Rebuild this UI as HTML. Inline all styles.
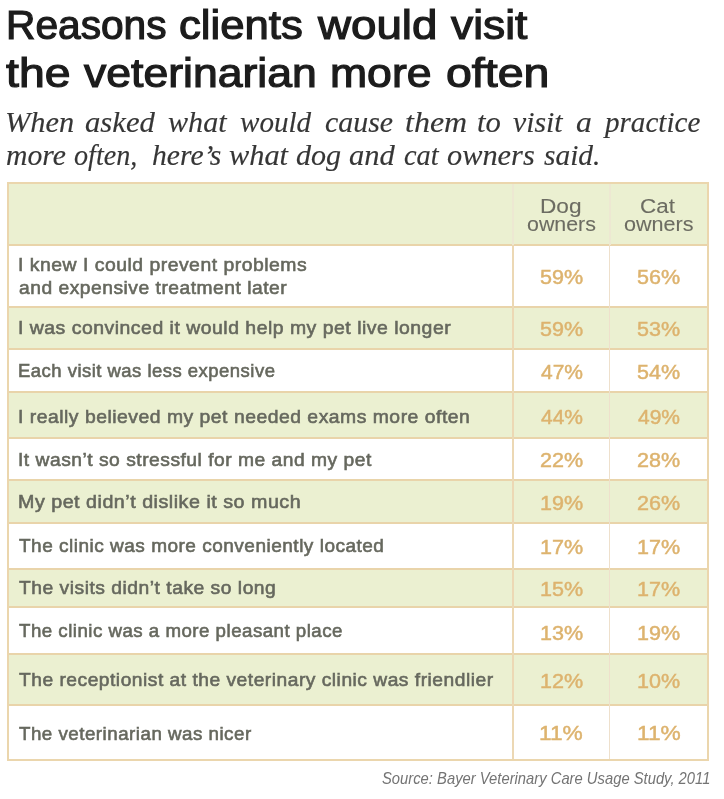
<!DOCTYPE html>
<html><head><meta charset="utf-8"><style>
html,body{margin:0;padding:0;background:#ffffff;width:724px;height:799px;overflow:hidden;position:relative}
.t{position:absolute;white-space:nowrap;transform-origin:0 0}
.r{position:absolute;box-sizing:border-box}
#wrap{position:absolute;left:0;top:0;width:724px;height:799px;filter:blur(0.45px)}
</style></head><body><div id="wrap">
<div class="r" style="left:7px;top:183px;width:701px;height:62.2px;background:#ebf0d1"></div>
<div class="r" style="left:7px;top:245.2px;width:701px;height:61.6px;background:#ffffff"></div>
<div class="r" style="left:7px;top:306.8px;width:701px;height:42.2px;background:#ebf0d1"></div>
<div class="r" style="left:7px;top:349px;width:701px;height:43.4px;background:#ffffff"></div>
<div class="r" style="left:7px;top:392.4px;width:701px;height:45.7px;background:#ebf0d1"></div>
<div class="r" style="left:7px;top:438.1px;width:701px;height:42.1px;background:#ffffff"></div>
<div class="r" style="left:7px;top:480.2px;width:701px;height:42.5px;background:#ebf0d1"></div>
<div class="r" style="left:7px;top:522.7px;width:701px;height:46.6px;background:#ffffff"></div>
<div class="r" style="left:7px;top:569.3px;width:701px;height:37.6px;background:#ebf0d1"></div>
<div class="r" style="left:7px;top:606.9px;width:701px;height:47.4px;background:#ffffff"></div>
<div class="r" style="left:7px;top:654.3px;width:701px;height:50.8px;background:#ebf0d1"></div>
<div class="r" style="left:7px;top:705.1px;width:701px;height:54.9px;background:#ffffff"></div>
<div class="r" style="left:7px;top:244.10px;width:701px;height:2.2px;background:#e9d4aa"></div>
<div class="r" style="left:7px;top:305.70px;width:701px;height:2.2px;background:#e9d4aa"></div>
<div class="r" style="left:7px;top:347.90px;width:701px;height:2.2px;background:#e9d4aa"></div>
<div class="r" style="left:7px;top:391.30px;width:701px;height:2.2px;background:#e9d4aa"></div>
<div class="r" style="left:7px;top:437.00px;width:701px;height:2.2px;background:#e9d4aa"></div>
<div class="r" style="left:7px;top:479.10px;width:701px;height:2.2px;background:#e9d4aa"></div>
<div class="r" style="left:7px;top:521.60px;width:701px;height:2.2px;background:#e9d4aa"></div>
<div class="r" style="left:7px;top:568.20px;width:701px;height:2.2px;background:#e9d4aa"></div>
<div class="r" style="left:7px;top:605.80px;width:701px;height:2.2px;background:#e9d4aa"></div>
<div class="r" style="left:7px;top:653.20px;width:701px;height:2.2px;background:#e9d4aa"></div>
<div class="r" style="left:7px;top:704.00px;width:701px;height:2.2px;background:#e9d4aa"></div>
<div class="r" style="left:511.90px;top:245.2px;width:1.8px;height:514.8px;background:#ecd8b4"></div>
<div class="r" style="left:511.80px;top:183px;width:2px;height:62.2px;background:#ede8d2"></div>
<div class="r" style="left:609.10px;top:245.2px;width:1.4px;height:514.8px;background:#eee0cc"></div>
<div class="r" style="left:608.80px;top:183px;width:2px;height:62.2px;background:#ede8d2"></div>
<div class="r" style="left:6.8px;top:182.2px;width:702.2px;height:579.1px;border:2px solid #ebd6ad"></div>
<div class="t" style="left:5.53px;top:-15.28px;font-family:'Liberation Sans',sans-serif;font-weight:400;font-style:normal;font-size:44px;line-height:88px;letter-spacing:0px;color:#1c1c1c;-webkit-text-stroke:1.3px #1c1c1c;transform:scale(0.9247,0.92)">Reasons</div>
<div class="t" style="left:179.41px;top:-15.28px;font-family:'Liberation Sans',sans-serif;font-weight:400;font-style:normal;font-size:44px;line-height:88px;letter-spacing:0px;color:#1c1c1c;-webkit-text-stroke:1.3px #1c1c1c;transform:scale(0.9927,0.92)">clients</div>
<div class="t" style="left:318.04px;top:-15.28px;font-family:'Liberation Sans',sans-serif;font-weight:400;font-style:normal;font-size:44px;line-height:88px;letter-spacing:0px;color:#1c1c1c;-webkit-text-stroke:1.3px #1c1c1c;transform:scale(1.0386,0.92)">would</div>
<div class="t" style="left:451.41px;top:-15.28px;font-family:'Liberation Sans',sans-serif;font-weight:400;font-style:normal;font-size:44px;line-height:88px;letter-spacing:0px;color:#1c1c1c;-webkit-text-stroke:1.3px #1c1c1c;transform:scale(1.0078,0.92)">visit</div>
<div class="t" style="left:5.50px;top:32.52px;font-family:'Liberation Sans',sans-serif;font-weight:400;font-style:normal;font-size:44px;line-height:88px;letter-spacing:0px;color:#1c1c1c;-webkit-text-stroke:1.3px #1c1c1c;transform:scale(1.0533,0.92)">the</div>
<div class="t" style="left:84.01px;top:32.52px;font-family:'Liberation Sans',sans-serif;font-weight:400;font-style:normal;font-size:44px;line-height:88px;letter-spacing:0px;color:#1c1c1c;-webkit-text-stroke:1.3px #1c1c1c;transform:scale(1.0127,0.92)">veterinarian</div>
<div class="t" style="left:329.68px;top:32.52px;font-family:'Liberation Sans',sans-serif;font-weight:400;font-style:normal;font-size:44px;line-height:88px;letter-spacing:0px;color:#1c1c1c;-webkit-text-stroke:1.3px #1c1c1c;transform:scale(1.0124,0.92)">more</div>
<div class="t" style="left:445.54px;top:32.52px;font-family:'Liberation Sans',sans-serif;font-weight:400;font-style:normal;font-size:44px;line-height:88px;letter-spacing:0px;color:#1c1c1c;-webkit-text-stroke:1.3px #1c1c1c;transform:scale(1.0568,0.92)">often</div>
<div class="t" style="left:5.48px;top:91.50px;font-family:'Liberation Serif',serif;font-weight:400;font-style:italic;font-size:30px;line-height:60px;letter-spacing:0px;color:#363636;-webkit-text-stroke:0.15px #363636;transform:scale(1.0123,1.0)">When</div>
<div class="t" style="left:84.78px;top:91.50px;font-family:'Liberation Serif',serif;font-weight:400;font-style:italic;font-size:30px;line-height:60px;letter-spacing:0px;color:#363636;-webkit-text-stroke:0.15px #363636;transform:scale(1.0235,1.0)">asked</div>
<div class="t" style="left:168.00px;top:91.50px;font-family:'Liberation Serif',serif;font-weight:400;font-style:italic;font-size:30px;line-height:60px;letter-spacing:0px;color:#363636;-webkit-text-stroke:0.15px #363636;transform:scale(1.0034,1.0)">what</div>
<div class="t" style="left:240.03px;top:91.50px;font-family:'Liberation Serif',serif;font-weight:400;font-style:italic;font-size:30px;line-height:60px;letter-spacing:0px;color:#363636;-webkit-text-stroke:0.15px #363636;transform:scale(0.9699,1.0)">would</div>
<div class="t" style="left:324.50px;top:91.50px;font-family:'Liberation Serif',serif;font-weight:400;font-style:italic;font-size:30px;line-height:60px;letter-spacing:0px;color:#363636;-webkit-text-stroke:0.15px #363636;transform:scale(0.9970,1.0)">cause</div>
<div class="t" style="left:404.93px;top:91.50px;font-family:'Liberation Serif',serif;font-weight:400;font-style:italic;font-size:30px;line-height:60px;letter-spacing:0px;color:#363636;-webkit-text-stroke:0.15px #363636;transform:scale(1.0661,1.0)">them</div>
<div class="t" style="left:476.98px;top:91.50px;font-family:'Liberation Serif',serif;font-weight:400;font-style:italic;font-size:30px;line-height:60px;letter-spacing:0px;color:#363636;-webkit-text-stroke:0.15px #363636;transform:scale(1.0227,1.0)">to</div>
<div class="t" style="left:513.00px;top:91.50px;font-family:'Liberation Serif',serif;font-weight:400;font-style:italic;font-size:30px;line-height:60px;letter-spacing:0px;color:#363636;-webkit-text-stroke:0.15px #363636;transform:scale(0.9922,1.0)">visit</div>
<div class="t" style="left:576.25px;top:91.50px;font-family:'Liberation Serif',serif;font-weight:400;font-style:italic;font-size:30px;line-height:60px;letter-spacing:0px;color:#363636;-webkit-text-stroke:0.15px #363636;transform:scale(1.0538,1.0)">a</div>
<div class="t" style="left:605.34px;top:91.50px;font-family:'Liberation Serif',serif;font-weight:400;font-style:italic;font-size:30px;line-height:60px;letter-spacing:0px;color:#363636;-webkit-text-stroke:0.15px #363636;transform:scale(0.9700,1.0)">practice</div>
<div class="t" style="left:5.61px;top:124.50px;font-family:'Liberation Serif',serif;font-weight:400;font-style:italic;font-size:30px;line-height:60px;letter-spacing:0px;color:#363636;-webkit-text-stroke:0.15px #363636;transform:scale(0.9898,1.0)">more</div>
<div class="t" style="left:74.06px;top:124.50px;font-family:'Liberation Serif',serif;font-weight:400;font-style:italic;font-size:30px;line-height:60px;letter-spacing:0px;color:#363636;-webkit-text-stroke:0.15px #363636;transform:scale(0.9385,1.0)">often,</div>
<div class="t" style="left:151.51px;top:124.50px;font-family:'Liberation Serif',serif;font-weight:400;font-style:italic;font-size:30px;line-height:60px;letter-spacing:0px;color:#363636;-webkit-text-stroke:0.15px #363636;transform:scale(0.9882,1.0)">here’s</div>
<div class="t" style="left:228.59px;top:124.50px;font-family:'Liberation Serif',serif;font-weight:400;font-style:italic;font-size:30px;line-height:60px;letter-spacing:0px;color:#363636;-webkit-text-stroke:0.15px #363636;transform:scale(1.0121,1.0)">what</div>
<div class="t" style="left:296.40px;top:124.50px;font-family:'Liberation Serif',serif;font-weight:400;font-style:italic;font-size:30px;line-height:60px;letter-spacing:0px;color:#363636;-webkit-text-stroke:0.15px #363636;transform:scale(1.0023,1.0)">dog</div>
<div class="t" style="left:348.58px;top:124.50px;font-family:'Liberation Serif',serif;font-weight:400;font-style:italic;font-size:30px;line-height:60px;letter-spacing:0px;color:#363636;-webkit-text-stroke:0.15px #363636;transform:scale(1.0182,1.0)">and</div>
<div class="t" style="left:404.06px;top:124.50px;font-family:'Liberation Serif',serif;font-weight:400;font-style:italic;font-size:30px;line-height:60px;letter-spacing:0px;color:#363636;-webkit-text-stroke:0.15px #363636;transform:scale(0.9444,1.0)">cat</div>
<div class="t" style="left:446.99px;top:124.50px;font-family:'Liberation Serif',serif;font-weight:400;font-style:italic;font-size:30px;line-height:60px;letter-spacing:0px;color:#363636;-webkit-text-stroke:0.15px #363636;transform:scale(1.0118,1.0)">owners</div>
<div class="t" style="left:544.00px;top:124.50px;font-family:'Liberation Serif',serif;font-weight:400;font-style:italic;font-size:30px;line-height:60px;letter-spacing:0px;color:#363636;-webkit-text-stroke:0.15px #363636;transform:scale(0.9818,1.0)">said.</div>
<div class="t" style="left:17.58px;top:245.70px;font-family:'Liberation Sans',sans-serif;font-weight:400;font-style:normal;font-size:19px;line-height:38px;letter-spacing:0.5px;color:#66685e;-webkit-text-stroke:0.6px #66685e;transform:scale(1.0191,1.0)">I knew I could prevent problems</div>
<div class="t" style="left:18.60px;top:269.20px;font-family:'Liberation Sans',sans-serif;font-weight:400;font-style:normal;font-size:19px;line-height:38px;letter-spacing:0.5px;color:#66685e;-webkit-text-stroke:0.6px #66685e;transform:scale(1.0128,1.0)">and expensive treatment later</div>
<div class="t" style="left:17.58px;top:309.00px;font-family:'Liberation Sans',sans-serif;font-weight:400;font-style:normal;font-size:19px;line-height:38px;letter-spacing:0.5px;color:#66685e;-webkit-text-stroke:0.6px #66685e;transform:scale(1.0210,1.0)">I was convinced it would help my pet live longer</div>
<div class="t" style="left:17.63px;top:352.30px;font-family:'Liberation Sans',sans-serif;font-weight:400;font-style:normal;font-size:19px;line-height:38px;letter-spacing:0.5px;color:#66685e;-webkit-text-stroke:0.6px #66685e;transform:scale(0.9722,1.0)">Each visit was less expensive</div>
<div class="t" style="left:17.58px;top:397.50px;font-family:'Liberation Sans',sans-serif;font-weight:400;font-style:normal;font-size:19px;line-height:38px;letter-spacing:0.5px;color:#66685e;-webkit-text-stroke:0.6px #66685e;transform:scale(1.0179,1.0)">I really believed my pet needed exams more often</div>
<div class="t" style="left:17.59px;top:440.80px;font-family:'Liberation Sans',sans-serif;font-weight:400;font-style:normal;font-size:19px;line-height:38px;letter-spacing:0.5px;color:#66685e;-webkit-text-stroke:0.6px #66685e;transform:scale(1.0126,1.0)">It wasn’t so stressful for me and my pet</div>
<div class="t" style="left:17.57px;top:482.80px;font-family:'Liberation Sans',sans-serif;font-weight:400;font-style:normal;font-size:19px;line-height:38px;letter-spacing:0.5px;color:#66685e;-webkit-text-stroke:0.6px #66685e;transform:scale(1.0347,1.0)">My pet didn’t dislike it so much</div>
<div class="t" style="left:18.60px;top:527.30px;font-family:'Liberation Sans',sans-serif;font-weight:400;font-style:normal;font-size:19px;line-height:38px;letter-spacing:0.5px;color:#66685e;-webkit-text-stroke:0.6px #66685e;transform:scale(1.0003,1.0)">The clinic was more conveniently located</div>
<div class="t" style="left:18.60px;top:569.30px;font-family:'Liberation Sans',sans-serif;font-weight:400;font-style:normal;font-size:19px;line-height:38px;letter-spacing:0.5px;color:#66685e;-webkit-text-stroke:0.6px #66685e;transform:scale(1.0143,1.0)">The visits didn’t take so long</div>
<div class="t" style="left:18.60px;top:611.80px;font-family:'Liberation Sans',sans-serif;font-weight:400;font-style:normal;font-size:19px;line-height:38px;letter-spacing:0.5px;color:#66685e;-webkit-text-stroke:0.6px #66685e;transform:scale(0.9830,1.0)">The clinic was a more pleasant place</div>
<div class="t" style="left:18.60px;top:661.30px;font-family:'Liberation Sans',sans-serif;font-weight:400;font-style:normal;font-size:19px;line-height:38px;letter-spacing:0.5px;color:#66685e;-webkit-text-stroke:0.6px #66685e;transform:scale(1.0109,1.0)">The receptionist at the veterinary clinic was friendlier</div>
<div class="t" style="left:18.60px;top:714.80px;font-family:'Liberation Sans',sans-serif;font-weight:400;font-style:normal;font-size:19px;line-height:38px;letter-spacing:0.5px;color:#66685e;-webkit-text-stroke:0.6px #66685e;transform:scale(0.9864,1.0)">The veterinarian was nicer</div>
<div class="t" style="left:539.52px;top:256.50px;font-family:'Liberation Sans',sans-serif;font-weight:400;font-style:normal;font-size:20px;line-height:40px;letter-spacing:0px;color:#ddb36e;-webkit-text-stroke:0.45px #ddb36e;transform:scale(1.0769,1.0)">59%</div>
<div class="t" style="left:636.72px;top:256.50px;font-family:'Liberation Sans',sans-serif;font-weight:400;font-style:normal;font-size:20px;line-height:40px;letter-spacing:0px;color:#ddb36e;-webkit-text-stroke:0.45px #ddb36e;transform:scale(1.0769,1.0)">56%</div>
<div class="t" style="left:539.52px;top:308.50px;font-family:'Liberation Sans',sans-serif;font-weight:400;font-style:normal;font-size:20px;line-height:40px;letter-spacing:0px;color:#ddb36e;-webkit-text-stroke:0.45px #ddb36e;transform:scale(1.0769,1.0)">59%</div>
<div class="t" style="left:636.72px;top:308.50px;font-family:'Liberation Sans',sans-serif;font-weight:400;font-style:normal;font-size:20px;line-height:40px;letter-spacing:0px;color:#ddb36e;-webkit-text-stroke:0.45px #ddb36e;transform:scale(1.0769,1.0)">53%</div>
<div class="t" style="left:540.60px;top:351.70px;font-family:'Liberation Sans',sans-serif;font-weight:400;font-style:normal;font-size:20px;line-height:40px;letter-spacing:0px;color:#ddb36e;-webkit-text-stroke:0.45px #ddb36e;transform:scale(1.0500,1.0)">47%</div>
<div class="t" style="left:636.72px;top:351.70px;font-family:'Liberation Sans',sans-serif;font-weight:400;font-style:normal;font-size:20px;line-height:40px;letter-spacing:0px;color:#ddb36e;-webkit-text-stroke:0.45px #ddb36e;transform:scale(1.0769,1.0)">54%</div>
<div class="t" style="left:540.60px;top:396.80px;font-family:'Liberation Sans',sans-serif;font-weight:400;font-style:normal;font-size:20px;line-height:40px;letter-spacing:0px;color:#ddb36e;-webkit-text-stroke:0.45px #ddb36e;transform:scale(1.0500,1.0)">44%</div>
<div class="t" style="left:637.80px;top:396.80px;font-family:'Liberation Sans',sans-serif;font-weight:400;font-style:normal;font-size:20px;line-height:40px;letter-spacing:0px;color:#ddb36e;-webkit-text-stroke:0.45px #ddb36e;transform:scale(1.0500,1.0)">49%</div>
<div class="t" style="left:539.52px;top:439.70px;font-family:'Liberation Sans',sans-serif;font-weight:400;font-style:normal;font-size:20px;line-height:40px;letter-spacing:0px;color:#ddb36e;-webkit-text-stroke:0.45px #ddb36e;transform:scale(1.0769,1.0)">22%</div>
<div class="t" style="left:636.72px;top:439.70px;font-family:'Liberation Sans',sans-serif;font-weight:400;font-style:normal;font-size:20px;line-height:40px;letter-spacing:0px;color:#ddb36e;-webkit-text-stroke:0.45px #ddb36e;transform:scale(1.0769,1.0)">28%</div>
<div class="t" style="left:539.52px;top:483.00px;font-family:'Liberation Sans',sans-serif;font-weight:400;font-style:normal;font-size:20px;line-height:40px;letter-spacing:0px;color:#ddb36e;-webkit-text-stroke:0.45px #ddb36e;transform:scale(1.0769,1.0)">19%</div>
<div class="t" style="left:636.72px;top:483.00px;font-family:'Liberation Sans',sans-serif;font-weight:400;font-style:normal;font-size:20px;line-height:40px;letter-spacing:0px;color:#ddb36e;-webkit-text-stroke:0.45px #ddb36e;transform:scale(1.0769,1.0)">26%</div>
<div class="t" style="left:539.52px;top:527.20px;font-family:'Liberation Sans',sans-serif;font-weight:400;font-style:normal;font-size:20px;line-height:40px;letter-spacing:0px;color:#ddb36e;-webkit-text-stroke:0.45px #ddb36e;transform:scale(1.0769,1.0)">17%</div>
<div class="t" style="left:636.72px;top:527.20px;font-family:'Liberation Sans',sans-serif;font-weight:400;font-style:normal;font-size:20px;line-height:40px;letter-spacing:0px;color:#ddb36e;-webkit-text-stroke:0.45px #ddb36e;transform:scale(1.0769,1.0)">17%</div>
<div class="t" style="left:539.52px;top:569.00px;font-family:'Liberation Sans',sans-serif;font-weight:400;font-style:normal;font-size:20px;line-height:40px;letter-spacing:0px;color:#ddb36e;-webkit-text-stroke:0.45px #ddb36e;transform:scale(1.0769,1.0)">15%</div>
<div class="t" style="left:636.72px;top:569.00px;font-family:'Liberation Sans',sans-serif;font-weight:400;font-style:normal;font-size:20px;line-height:40px;letter-spacing:0px;color:#ddb36e;-webkit-text-stroke:0.45px #ddb36e;transform:scale(1.0769,1.0)">17%</div>
<div class="t" style="left:539.52px;top:612.50px;font-family:'Liberation Sans',sans-serif;font-weight:400;font-style:normal;font-size:20px;line-height:40px;letter-spacing:0px;color:#ddb36e;-webkit-text-stroke:0.45px #ddb36e;transform:scale(1.0769,1.0)">13%</div>
<div class="t" style="left:636.72px;top:612.50px;font-family:'Liberation Sans',sans-serif;font-weight:400;font-style:normal;font-size:20px;line-height:40px;letter-spacing:0px;color:#ddb36e;-webkit-text-stroke:0.45px #ddb36e;transform:scale(1.0769,1.0)">19%</div>
<div class="t" style="left:539.52px;top:660.80px;font-family:'Liberation Sans',sans-serif;font-weight:400;font-style:normal;font-size:20px;line-height:40px;letter-spacing:0px;color:#ddb36e;-webkit-text-stroke:0.45px #ddb36e;transform:scale(1.0769,1.0)">12%</div>
<div class="t" style="left:636.72px;top:660.80px;font-family:'Liberation Sans',sans-serif;font-weight:400;font-style:normal;font-size:20px;line-height:40px;letter-spacing:0px;color:#ddb36e;-webkit-text-stroke:0.45px #ddb36e;transform:scale(1.0769,1.0)">10%</div>
<div class="t" style="left:539.46px;top:713.40px;font-family:'Liberation Sans',sans-serif;font-weight:400;font-style:normal;font-size:20px;line-height:40px;letter-spacing:0px;color:#ddb36e;-webkit-text-stroke:0.45px #ddb36e;transform:scale(1.1351,1.0)">11%</div>
<div class="t" style="left:636.66px;top:713.40px;font-family:'Liberation Sans',sans-serif;font-weight:400;font-style:normal;font-size:20px;line-height:40px;letter-spacing:0px;color:#ddb36e;-webkit-text-stroke:0.45px #ddb36e;transform:scale(1.1351,1.0)">11%</div>
<div class="t" style="left:540.27px;top:185.70px;font-family:'Liberation Sans',sans-serif;font-weight:400;font-style:normal;font-size:20px;line-height:40px;letter-spacing:0px;color:#6c6c62;-webkit-text-stroke:0.1px #6c6c62;transform:scale(1.1314,1.0)">Dog</div>
<div class="t" style="left:527.43px;top:204.30px;font-family:'Liberation Sans',sans-serif;font-weight:400;font-style:normal;font-size:20px;line-height:40px;letter-spacing:0px;color:#6c6c62;-webkit-text-stroke:0.1px #6c6c62;transform:scale(1.0683,1.0)">owners</div>
<div class="t" style="left:640.48px;top:185.70px;font-family:'Liberation Sans',sans-serif;font-weight:400;font-style:normal;font-size:20px;line-height:40px;letter-spacing:0px;color:#6c6c62;-webkit-text-stroke:0.1px #6c6c62;transform:scale(1.1200,1.0)">Cat</div>
<div class="t" style="left:624.32px;top:204.30px;font-family:'Liberation Sans',sans-serif;font-weight:400;font-style:normal;font-size:20px;line-height:40px;letter-spacing:0px;color:#6c6c62;-webkit-text-stroke:0.1px #6c6c62;transform:scale(1.0778,1.0)">owners</div>
<div class="t" style="left:382.43px;top:762.20px;font-family:'Liberation Sans',sans-serif;font-weight:400;font-style:italic;font-size:17px;line-height:34px;letter-spacing:0px;color:#747474;transform:scale(0.8696,1.0)">Source: Bayer Veterinary Care Usage Study, 2011</div>
</div></body></html>
